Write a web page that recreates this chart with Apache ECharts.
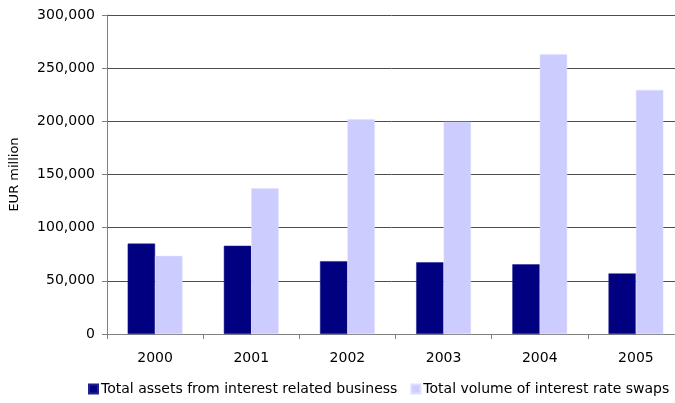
<!DOCTYPE html>
<html>
<head>
<meta charset="utf-8">
<script src="https://cdn.jsdelivr.net/npm/echarts@6/dist/echarts.min.js"></script>
<style>
  html, body { margin: 0; padding: 0; background: #fff; }
  #chart { width: 675px; height: 403px; }
</style>
</head>
<body>
<div id="chart"></div>
<script>
// Years on the category axis
const years = ['2000', '2001', '2002', '2003', '2004', '2005'];
// EUR million
const assetsInterestBusiness = [85000, 83000, 68500, 67500, 65500, 57000];
const swapVolume = [73500, 137000, 202000, 199500, 263000, 229500];
const seriesNames = ['Total assets from interest related business', 'Total volume of interest rate swaps'];
const yAxisTitle = 'EUR million';

const FONT = 'DejaVu Sans';
const chart = echarts.init(document.getElementById('chart'), null, { renderer: 'canvas' });

chart.setOption({
  animation: false,
  backgroundColor: '#ffffff',
  // plot area runs a little past the right edge of the canvas
  grid: {
    left: 107, top: 15, height: 319, width: 577,
    containLabel: false, outerBoundsMode: 'none'
  },
  legend: {
    top: 382,
    left: 83,
    width: 640,
    padding: [0, 5],
    icon: 'rect',
    itemWidth: 9,
    itemHeight: 9,
    itemGap: 13,
    textStyle: { fontFamily: FONT, fontSize: 14, color: '#000', padding: [0, 0, 0, -2] },
    data: seriesNames
  },
  xAxis: {
    type: 'category',
    data: years,
    axisLine: { lineStyle: { color: '#808080', width: 1 } },
    axisTick: { show: true, length: 5, lineStyle: { color: '#808080' } },
    axisLabel: { fontFamily: FONT, fontSize: 14, color: '#000', margin: 17 }
  },
  yAxis: {
    type: 'value',
    min: 0,
    max: 300000,
    interval: 50000,
    name: yAxisTitle,
    nameLocation: 'middle',
    nameRotate: 90,
    nameGap: 86,
    nameTextStyle: { fontFamily: FONT, fontSize: 13, color: '#000' },
    axisLine: { show: true, lineStyle: { color: '#808080', width: 1 } },
    axisTick: { show: true, length: 5, lineStyle: { color: '#808080' } },
    axisLabel: {
      fontFamily: FONT, fontSize: 14, color: '#000', margin: 12,
      formatter: v => v.toLocaleString('en-US')
    },
    splitLine: { lineStyle: { color: '#4d4d4d', width: 1 } }
  },
  series: [
    {
      name: seriesNames[0],
      type: 'bar',
      data: assetsInterestBusiness,
      barGap: '0%',
      barCategoryGap: '43%',
      itemStyle: { color: '#000080', borderColor: '#20208f', borderWidth: 0.5 }
    },
    {
      name: seriesNames[1],
      type: 'bar',
      data: swapVolume,
      barGap: '0%',
      barCategoryGap: '43%',
      itemStyle: { color: '#ccccff', borderColor: '#dedeff', borderWidth: 0.5 }
    }
  ]
});
</script>
</body>
</html>
